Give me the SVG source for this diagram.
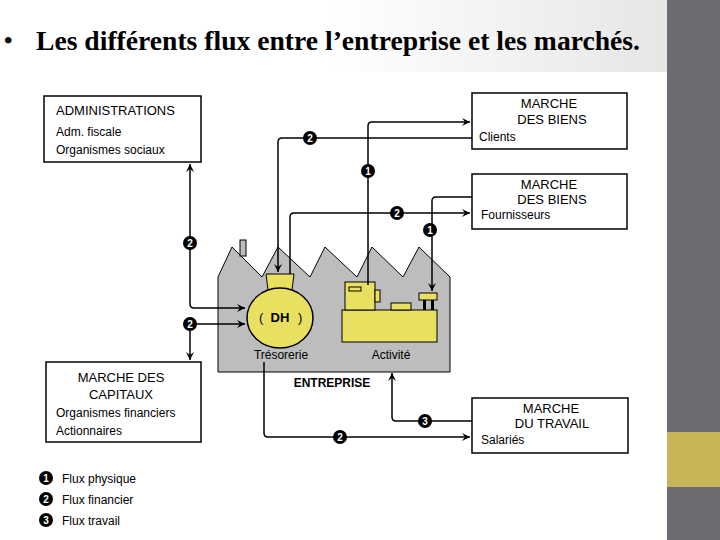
<svg xmlns="http://www.w3.org/2000/svg" width="720" height="540" viewBox="0 0 720 540">
<style>
.b{fill:#fff;stroke:#000;stroke-width:1.5}
.t{font-family:"Liberation Sans",Arial,sans-serif;font-size:12px;fill:#000}
.h{font-family:"Liberation Sans",Arial,sans-serif;font-size:13px;fill:#000}
.c path{fill:none;stroke:#000;stroke-width:1.5}
.n circle{fill:#000}
.n text{font-family:"Liberation Sans",Arial,sans-serif;font-size:10px;font-weight:bold;fill:#fff;text-anchor:middle}
</style>
<defs>
<linearGradient id="g" x1="0" x2="1"><stop offset="0.5" stop-color="#fff"/><stop offset="1" stop-color="#e6e6e6"/></linearGradient>
<marker id="a" markerWidth="10" markerHeight="10" refX="9" refY="5" orient="auto" markerUnits="userSpaceOnUse"><path d="M1,1 L9,5 L1,9 L4,5 Z" fill="#000"/></marker>
</defs>
<rect width="720" height="540" fill="#fff"/>
<rect x="0" y="0" width="667" height="72" fill="url(#g)"/>
<rect x="667" y="0" width="53" height="540" fill="#6d6a72"/>
<rect x="667" y="432" width="53" height="55" fill="#c9b458"/>
<text x="4" y="48" font-family="Liberation Serif,serif" font-size="24" font-weight="bold">•</text>
<text x="36" y="50" font-family="Liberation Serif,serif" font-size="28" font-weight="bold" textLength="604" lengthAdjust="spacingAndGlyphs">Les différents flux entre l’entreprise et les marchés.</text>

<g id="entreprise">
<path d="M218,372 L218,277 L232,247 L262,277 L278,247 L310,277 L325,247 L357,277 L372,247 L403,277 L419,247 L450,277 L450,372 Z" fill="#bdbdbd" stroke="#000" stroke-width="1"/>
<rect x="240" y="240" width="6" height="16" fill="#bdbdbd" stroke="#000"/>
<path d="M268,290 L266,274 L294,274 L292,290 Z" fill="#e8e060" stroke="#000"/>
<ellipse cx="280" cy="318" rx="33" ry="30" fill="#e8e060" stroke="#000" stroke-width="1.5"/>
<text x="280" y="322" text-anchor="middle" font-family="Liberation Sans,Arial,sans-serif" font-size="13" font-weight="bold">DH</text>
<text x="259" y="322" font-family="Liberation Sans,Arial,sans-serif" font-size="13">(</text>
<text x="298" y="322" font-family="Liberation Sans,Arial,sans-serif" font-size="13">)</text>
<rect x="342" y="310" width="95" height="32" fill="#e8e060" stroke="#000"/>
<rect x="345" y="282" width="30" height="28" fill="#e8e060" stroke="#000"/>
<rect x="349" y="287" width="12" height="4" fill="none" stroke="#000"/>
<rect x="375" y="290" width="5" height="12" fill="#e8e060" stroke="#000"/>
<rect x="391" y="303" width="20" height="7" fill="#e8e060" stroke="#000"/>
<rect x="419" y="293" width="18" height="7" fill="#e8e060" stroke="#000"/>
<rect x="423" y="300" width="3" height="10" fill="#000"/><rect x="431" y="300" width="3" height="10" fill="#000"/>
<text x="281" y="359" text-anchor="middle" class="t">Trésorerie</text>
<text x="391" y="359" text-anchor="middle" class="t">Activité</text>
<text x="332" y="387" text-anchor="middle" font-family="Liberation Sans,Arial,sans-serif" font-size="12" font-weight="bold">ENTREPRISE</text>
</g>

<g id="admin"><rect class="b" x="44" y="96" width="157" height="66"/>
<text class="h" x="56" y="115">ADMINISTRATIONS</text><text class="t" x="56" y="136">Adm. fiscale</text><text class="t" x="56" y="154">Organismes sociaux</text></g>
<g id="clients"><rect class="b" x="472" y="93" width="155" height="56"/>
<text class="h" x="549" y="108" text-anchor="middle">MARCHE</text><text class="h" x="552" y="124" text-anchor="middle">DES BIENS</text><text class="t" x="479" y="141" font-size="11">Clients</text></g>
<g id="fournisseurs"><rect class="b" x="472" y="174" width="155" height="55"/>
<text class="h" x="549" y="189" text-anchor="middle">MARCHE</text><text class="h" x="552" y="204" text-anchor="middle">DES BIENS</text><text class="t" x="481" y="219" font-size="11">Fournisseurs</text></g>
<g id="capitaux"><rect class="b" x="46" y="362" width="155" height="80"/>
<text class="h" x="121" y="382" text-anchor="middle">MARCHE DES</text><text class="h" x="121" y="399" text-anchor="middle">CAPITAUX</text><text class="t" x="56" y="417">Organismes financiers</text><text class="t" x="56" y="435">Actionnaires</text></g>
<g id="travail"><rect class="b" x="472" y="398" width="156" height="55"/>
<text class="h" x="551" y="413" text-anchor="middle">MARCHE</text><text class="h" x="552" y="428" text-anchor="middle">DU TRAVAIL</text><text class="t" x="481" y="444" font-size="11">Salariés</text></g>

<g class="c">
<path d="M368,285 L368,126 Q368,122 372,122 L470,122" marker-end="url(#a)"/>
<path d="M472,138 L282,138 Q278,138 278,142 L278,272" marker-end="url(#a)"/>
<path d="M290,274 L290,217 Q290,213 294,213 L470,213" marker-end="url(#a)"/>
<path d="M472,197 L436,197 Q432,197 432,201 L432,291" marker-end="url(#a)"/>
<path d="M190,245 L190,164" marker-end="url(#a)"/>
<path d="M190,245 L190,304 Q190,308 194,308 L245,308" marker-end="url(#a)"/>
<path d="M190,324 L245,324" marker-end="url(#a)"/>
<path d="M190,324 L190,360" marker-end="url(#a)"/>
<path d="M264,362 L264,433 Q264,437 268,437 L470,437" marker-end="url(#a)"/>
<path d="M472,421 L396,421 Q392,421 392,417 L392,373" marker-end="url(#a)"/>
</g>
<g class="n">
<circle cx="310" cy="138" r="7"/><text x="310" y="142">2</text>
<circle cx="368" cy="171" r="7"/><text x="368" y="175">1</text>
<circle cx="397" cy="213" r="7"/><text x="397" y="217">2</text>
<circle cx="430" cy="230" r="7"/><text x="430" y="234">1</text>
<circle cx="190" cy="243" r="7"/><text x="190" y="247">2</text>
<circle cx="190" cy="324" r="7"/><text x="190" y="328">2</text>
<circle cx="340" cy="437" r="7"/><text x="340" y="441">2</text>
<circle cx="425" cy="421" r="7"/><text x="425" y="425">3</text>
<circle cx="46" cy="478" r="7"/><text x="46" y="482">1</text>
<circle cx="46" cy="499" r="7"/><text x="46" y="503">2</text>
<circle cx="46" cy="520" r="7"/><text x="46" y="524">3</text>
</g>
<g id="legende">
<text class="t" x="62" y="483">Flux physique</text>
<text class="t" x="62" y="504">Flux financier</text>
<text class="t" x="62" y="525">Flux travail</text>
</g>
</svg>
